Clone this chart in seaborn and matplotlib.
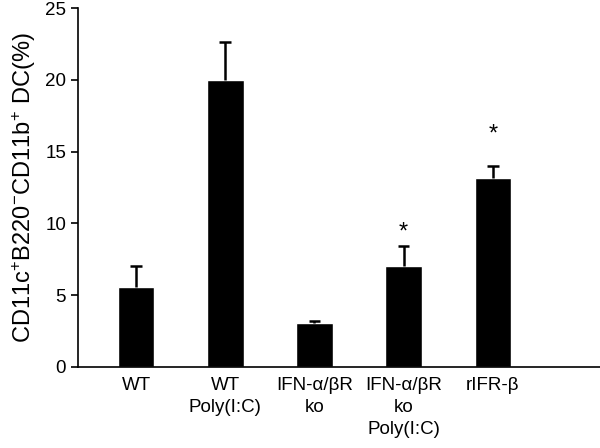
import numpy as np
import pandas as pd
import seaborn as sns
import matplotlib
matplotlib.use('Agg')
import matplotlib.pyplot as plt

# 数据
groups = ['WT', 'WT\nPoly(I:C)', 'IFN-α/βR\nko', 'IFN-α/βR\nko\nPoly(I:C)', 'rIFR-β']
values = [5.6, 20.0, 3.05, 7.0, 13.15]
errors = [1.4, 2.65, 0.12, 1.4, 0.85]
star_groups = [3, 4]
star_y = [8.6, 15.4]

data = pd.DataFrame({'group': groups, 'value': values})

sns.set_style('ticks')
plt.rcParams['font.family'] = ['Liberation Sans', 'DejaVu Sans']
plt.rcParams['mathtext.default'] = 'regular'

fig = plt.figure(figsize=(6, 4.48), dpi=100)
ax = fig.add_axes([0.13, 0.181, 0.87, 0.801])

sns.barplot(data=data, x='group', y='value', color='black', width=0.41,
            saturation=1, ax=ax)

# 误差线 (只画上方)
x = np.arange(len(groups))
top = np.array(values) + np.array(errors)
ax.vlines(x, values, top, color='black', lw=1.8, zorder=1)
ax.hlines(top, x - 0.065, x + 0.065, color='black', lw=1.8, zorder=1)

for i, yy in zip(star_groups, star_y):
    ax.text(i, yy, '*', ha='center', va='bottom', fontsize=17, color='black')

ax.set_ylim(0, 25)
ax.set_xlim(-0.65, 5.2)
ax.set_yticks([0, 5, 10, 15, 20, 25])
ax.set_xlabel('')
ax.set_ylabel('CD11c$^{+}$B220$^{-}$CD11b$^{+}$ DC(%)', fontsize=17,
              color='black', labelpad=5)
ax.tick_params(axis='y', labelsize=13.5, length=5, width=1.2, direction='out',
               colors='black')
ax.tick_params(axis='x', labelsize=13.5, length=0, pad=7, colors='black')
for lbl in ax.get_xticklabels():
    lbl.set_linespacing(1.4)
sns.despine(ax=ax)
for s in ['left', 'bottom']:
    ax.spines[s].set_linewidth(1.2)
    ax.spines[s].set_color('black')

plt.savefig('out.png', dpi=100)
